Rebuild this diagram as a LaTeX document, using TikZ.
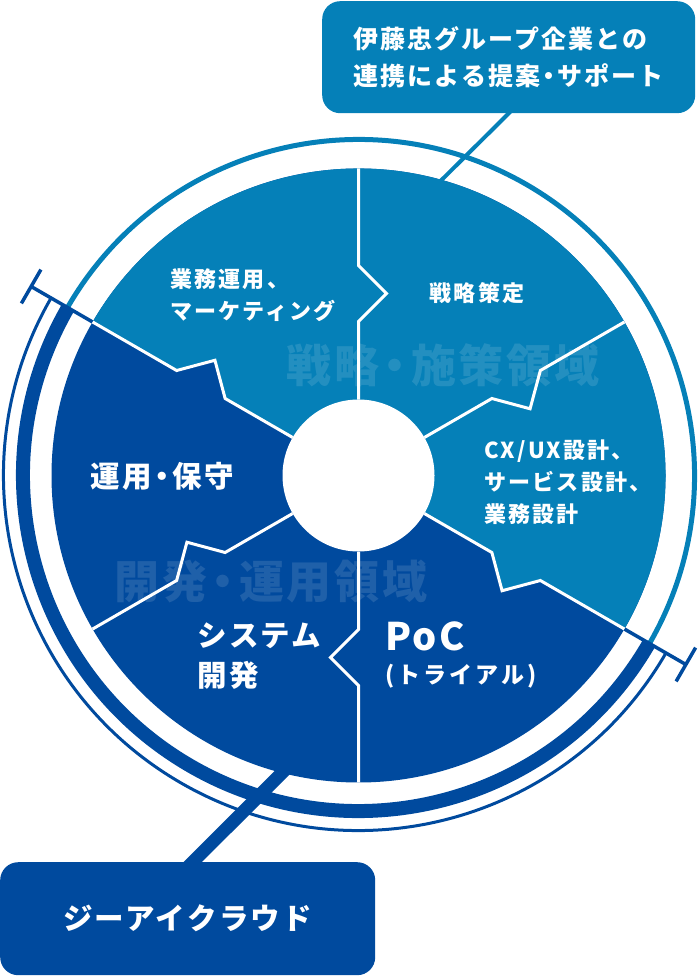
\documentclass[tikz,border=0pt]{standalone}
\usepackage{fontspec}
\setmainfont{Noto Sans CJK JP}
\usetikzlibrary{positioning}

\definecolor{stratblue}{HTML}{0580B8}
\definecolor{devblue}{HTML}{004A9E}
\newcommand{\nakadot}{\kern-.15em・\kern-.15em}

\tikzset{
  seclabel/.style={text=white, inner sep=0pt, align=left,
    font=\fontsize{22}{32}\selectfont\bfseries\addfontfeature{LetterSpace=10}},
  biglabel/.style={text=white, inner sep=0pt, align=left,
    font=\fontsize{29.5}{40}\selectfont\bfseries\addfontfeature{LetterSpace=8}},
  zonelabel/.style={text=white, text opacity=.12, inner sep=0pt,
    font=\fontsize{45}{45}\selectfont\bfseries\addfontfeature{LetterSpace=6}},
  callout/.style={rounded corners=18pt, inner sep=0pt, text=white, align=left},
  border/.style={white, line width=3pt},
}

\begin{document}
\begin{tikzpicture}[x=1pt, y=1pt]
  \useasboundingbox (0,0) rectangle (698,-976);
  \coordinate (c) at (358.5,-475.5);

  \begin{scope}[shift={(c)}]
    % outer rings
    \draw[stratblue, line width=5pt] (150:336) arc[start angle=150, end angle=-30, radius=336];
    \draw[devblue, line width=14pt] (-30:335.5) arc[start angle=-30, end angle=-210, radius=335.5];
    \draw[devblue, line width=3pt] (-30:355) arc[start angle=-30, end angle=-210, radius=355];
    \foreach \a in {150,-30}{
      \draw[devblue, line width=3.5pt, rotate=\a] (307,0) -- (378,0) (378,-19.5) -- (378,19.5);
    }

    % pie
    \fill[devblue] (0,0) circle[radius=307];
    \fill[stratblue] (0,0) -- (150:154) -- (141.25:184.1) -- (150:210) -- (150:307)
      arc[start angle=150, end angle=-30, radius=307]
      -- (-30:210) -- (-38.75:184.1) -- (-30:154) -- cycle;
  \end{scope}

  \node[zonelabel] (stratzone) at (443,-365.5) {戦略\nakadot 施策領域};
  \node[zonelabel] (devzone) at (271,-582) {開発\nakadot 運用領域};

  \begin{scope}[shift={(c)}]
    \foreach \a in {90,30,-30,-90,-150,-210}{
      \draw[border] (\a:76) -- (\a:154) -- ({\a-8.75}:184.1) -- (\a:210) -- (\a:307);
    }
    \node[circle, fill=white, minimum size=152pt, inner sep=0pt] (hub) at (0,0) {};
    \coordinate (topend) at (75:300.5);
    \coordinate (botend) at (256.5:299);
  \end{scope}

  % sector labels
  \node[seclabel, anchor=west] (ops) at (170,-295.5) {業務運用、\\マーケティング};
  \node[seclabel] (plan) at (477,-293.5) {戦略策定};
  \node[seclabel, anchor=west] (design) at (484,-482) {CX/UX設計、\\サービス設計、\\業務設計};
  \node[biglabel, anchor=west] (maint) at (90,-476) {運用\nakadot 保守};
  \node[biglabel, anchor=west] (dev) at (197,-656) {システム\\開発};
  \node[text=white, inner sep=0pt, anchor=west,
    font=\fontsize{38}{38}\selectfont\bfseries\addfontfeature{LetterSpace=6}] (poc) at (385,-636.5) {PoC};
  \node[text=white, inner sep=0pt, anchor=west,
    font=\fontsize{23}{23}\selectfont\bfseries\addfontfeature{LetterSpace=13}] (trial) at (385,-676.5) {(トライアル)};

  % callouts
  \node[callout, fill=stratblue, minimum width=373pt, minimum height=112pt, anchor=north west,
    font=\fontsize{25}{36.5}\selectfont\bfseries\addfontfeature{LetterSpace=8}] (partner) at (322,-1)
    {伊藤忠グループ企業との\\連携による提案\nakadot サポート};
  \node[callout, fill=devblue, minimum width=375pt, minimum height=113pt, anchor=north west,
    font=\fontsize{29.5}{30}\selectfont\bfseries\addfontfeature{LetterSpace=8}] (gicloud) at (0,-862)
    {ジーアイクラウド};

  \draw[stratblue, line width=4pt] ([xshift=3pt, yshift=3pt]partner.south) -- (topend);
  \draw[devblue, line width=13pt] ([xshift=-3pt, yshift=-8pt]gicloud.north) -- (botend);
\end{tikzpicture}
\end{document}
